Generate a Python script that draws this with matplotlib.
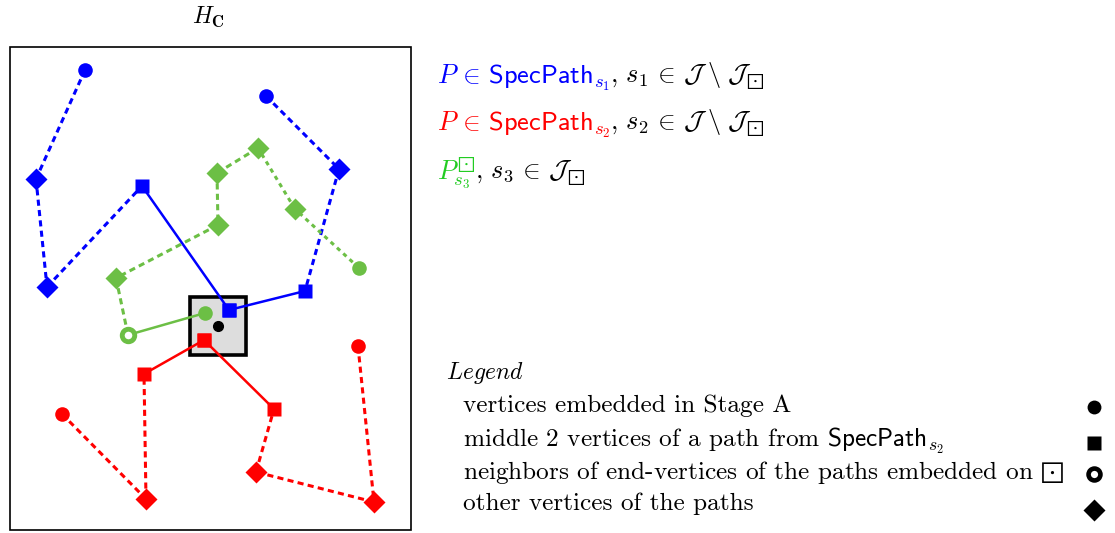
import matplotlib
matplotlib.use("Agg")
import matplotlib.pyplot as plt
from matplotlib import transforms
from matplotlib.patches import Rectangle

plt.rcParams['mathtext.fontset'] = 'cm'
plt.rcParams['axes.unicode_minus'] = False

BLUE = '#0000ff'
RED = '#ff0000'
GREEN = '#6cbf45'
TXT_GREEN = '#22cc22'

# vertices of each path (pixel positions in the drawing), marker kind, edge style
blue_a_x = [85, 36, 47, 142, 229]
blue_a_y = [70, 179, 287, 186, 310]
blue_a_kind = ['o', 'D', 'D', 's', 's']
blue_a_edges = ['--', '--', '--', '-']

blue_b_x = [266, 339, 305, 229]
blue_b_y = [96, 169, 291, 310]
blue_b_kind = ['o', 'D', 's', 's']
blue_b_edges = ['--', '--', '-']

green_x = [359, 295, 258, 217, 218, 116, 128, 205]
green_y = [268, 209, 148, 173, 225, 278, 335, 313]
green_kind = ['o', 'D', 'D', 'D', 'D', 'D', 'ring', 'o']
green_edges = [':', ':', '--', '--', '--', '--', '-']

red_a_x = [358, 374, 256, 274, 204]
red_a_y = [346, 502, 472, 409, 340]
red_a_kind = ['o', 'D', 'D', 's', 's']
red_a_edges = ['--', '--', '--', '-']

red_b_x = [62, 146, 144, 204]
red_b_y = [414, 499, 374, 340]
red_b_kind = ['o', 'D', 's', 's']
red_b_edges = ['--', '--', '-']

centre_x, centre_y = 218, 326

legend_items = [
    'vertices embedded in Stage A',
    r'middle 2 vertices of a path from $\mathsf{SpecPath}_{s_2}$',
    r'neighbors of end-vertices of the paths embedded on $\boxdot$',
    'other vertices of the paths',
]
legend_kinds = ['o', 's', 'ring', 'D']

fig = plt.figure(figsize=(11.15, 5.33), dpi=100)
ax = fig.add_axes([0, 0, 1, 1])
ax.set_xlim(0, 1115)
ax.set_ylim(533, 0)
ax.axis('off')


def draw_marker(x, y, kind, color, z=5, scale=1.0):
    if kind == 'o':
        ax.plot(x, y, 'o', ms=10.5 * scale, color=color, mec='none', zorder=z)
    elif kind == 's':
        ax.plot(x, y, 's', ms=10 * scale, color=color, mec='none', zorder=z)
    elif kind == 'D':
        ax.plot(x, y, 'D', ms=11.5 * scale, color=color, mec='none', zorder=z)
    elif kind == 'ring':
        ax.plot(x, y, 'o', ms=9 * scale, mfc='white', mec=color, mew=3.5 * scale, zorder=z)


def draw_path(xs, ys, kinds, edges, color):
    for i, ls in enumerate(edges):
        if ls == '-':
            ax.plot(xs[i:i + 2], ys[i:i + 2], color=color, lw=1.8, zorder=3)
        else:
            dash = (2.0, 1.4) if ls == '--' else (1.4, 1.4)
            ax.plot(xs[i:i + 2], ys[i:i + 2], color=color, lw=2.2,
                    dashes=dash, zorder=3)
    for x, y, k in zip(xs, ys, kinds):
        draw_marker(x, y, k, color)


# outer frame of H_C and the highlighted vertex cell
ax.add_patch(Rectangle((10, 47), 401, 483, fill=False, lw=1.2, ec='black', zorder=1))
ax.add_patch(Rectangle((190, 297), 56, 58, fc='#dddddd', ec='black', lw=2.6, zorder=2))

draw_path(blue_a_x, blue_a_y, blue_a_kind, blue_a_edges, BLUE)
draw_path(blue_b_x, blue_b_y, blue_b_kind, blue_b_edges, BLUE)
draw_path(green_x, green_y, green_kind, green_edges, GREEN)
draw_path(red_a_x, red_a_y, red_a_kind, red_a_edges, RED)
draw_path(red_b_x, red_b_y, red_b_kind, red_b_edges, RED)
ax.plot(centre_x, centre_y, 'o', ms=7, color='black', zorder=6)

ax.text(208, 24, r'$H_{\mathbf{C}}$', fontsize=17, ha='center', va='baseline')


def colored_text(x, y, parts, size):
    renderer = fig.canvas.get_renderer()
    t = ax.transData
    for s, c in parts:
        txt = ax.text(x, y, s, color=c, fontsize=size, transform=t, va='baseline')
        txt.draw(renderer)
        ex = txt.get_window_extent(renderer)
        t = transforms.offset_copy(txt.get_transform(), fig=fig, x=ex.width, units='dots')


colored_text(437, 83, [(r'$P\,\in\,\mathsf{SpecPath}_{s_1}$', BLUE),
                       (r'$,\,s_1\,\in\,\mathcal{J}\;\backslash\;\mathcal{J}_{\boxdot}$', 'black')], 19)
colored_text(437, 130, [(r'$P\,\in\,\mathsf{SpecPath}_{s_2}$', RED),
                        (r'$,\,s_2\,\in\,\mathcal{J}\;\backslash\;\mathcal{J}_{\boxdot}$', 'black')], 19)
colored_text(437, 179, [(r'$P^{\boxdot}_{s_3}$', TXT_GREEN),
                        (r'$,\,s_3\,\in\,\mathcal{J}_{\boxdot}$', 'black')], 19)

ax.text(446, 379, r'$\mathit{Legend}$', fontsize=17, va='baseline')
legend_y = [412, 447, 479, 510]
marker_y = [407, 443, 474, 510]
for label, yy, my, k in zip(legend_items, legend_y, marker_y, legend_kinds):
    ax.text(463, yy, label, fontsize=18.2, family='cmr10', va='baseline')
    draw_marker(1094, my, k, 'black', scale=0.95)

fig.savefig('out.png', dpi=100)
